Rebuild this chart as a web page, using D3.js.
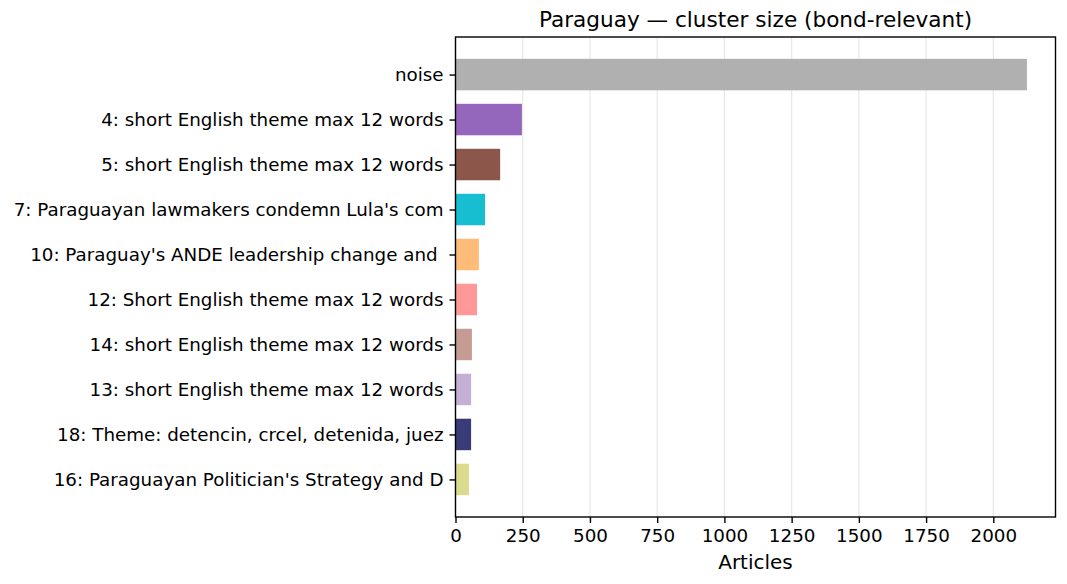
<!DOCTYPE html>
<html>
<head>
<meta charset="utf-8">
<script src="https://cdn.jsdelivr.net/npm/d3@7"></script>
<style>
  body { margin: 0; background: #fff; }
  text { font-family: "DejaVu Sans", sans-serif; }
</style>
</head>
<body>
<svg id="chart"></svg>
<script>
// cluster labels, top to bottom
const labels = [
    "noise",
    "4: short English theme max 12 words",
    "5: short English theme max 12 words",
    "7: Paraguayan lawmakers condemn Lula's com",
    "10: Paraguay's ANDE leadership change and ",
    "12: Short English theme max 12 words",
    "14: short English theme max 12 words",
    "13: short English theme max 12 words",
    "18: Theme: detencin, crcel, detenida, juez",
    "16: Paraguayan Politician's Strategy and D"
];
const counts = [2125, 247, 166, 110, 87, 80, 61, 58, 58, 50];
const colors = ["#b0b0b0", "#9467bd", "#8c564b", "#17becf", "#ffbb78",
    "#ff9896", "#c49c94", "#c5b0d5", "#393b79", "#dbdb8d"];
const xTicks = [0, 250, 500, 750, 1000, 1250, 1500, 1750, 2000];

const width = 1067;
const height = 584;
const margin = { top: 37, right: 11.5, bottom: 67, left: 455.5 };
const fontSize = "18.3px";

const svg = d3.select("#chart")
    .attr("width", width)
    .attr("height", height);

const x = d3.scaleLinear()
    .domain([0, d3.max(counts) * 1.05])
    .range([margin.left, width - margin.right]);

// matplotlib style: bar height 0.7, 5% margins
const y = d3.scaleLinear()
    .domain([-0.835, labels.length - 1 + 0.835])
    .range([margin.top, height - margin.bottom]);

// grid
svg.append("g")
    .selectAll("line")
    .data(xTicks)
    .join("line")
    .attr("x1", d => x(d))
    .attr("x2", d => x(d))
    .attr("y1", margin.top)
    .attr("y2", height - margin.bottom)
    .attr("stroke", "#b0b0b0")
    .attr("stroke-opacity", 0.3)
    .attr("stroke-width", 1.2);

svg.append("g")
    .selectAll("rect")
    .data(counts)
    .join("rect")
    .attr("x", x(0))
    .attr("y", (d, i) => y(i - 0.35))
    .attr("width", d => x(d) - x(0))
    .attr("height", y(0.35) - y(-0.35))
    .attr("fill", (d, i) => colors[i]);

const xAxis = svg.append("g")
    .attr("transform", `translate(0, ${height - margin.bottom})`)
    .call(d3.axisBottom(x).tickValues(xTicks).tickFormat(d3.format("d"))
        .tickSize(6).tickPadding(6));

const yAxis = svg.append("g")
    .attr("transform", `translate(${margin.left}, 0)`)
    .call(d3.axisLeft(y)
        .tickValues(d3.range(labels.length))
        .tickFormat(i => labels[i])
        .tickSize(6).tickPadding(6));

[xAxis, yAxis].forEach(g => {
    g.select(".domain").remove();
    g.selectAll(".tick line").attr("stroke", "#000").attr("stroke-width", 1.4);
    g.selectAll("text")
        .attr("font-size", fontSize)
        .attr("fill", "#000")
        .attr("font-family", "DejaVu Sans, sans-serif");
});
yAxis.selectAll("text").style("white-space", "pre");

// frame
svg.append("rect")
    .attr("x", margin.left)
    .attr("y", margin.top)
    .attr("width", width - margin.right - margin.left)
    .attr("height", height - margin.bottom - margin.top)
    .attr("fill", "none")
    .attr("stroke", "#000")
    .attr("stroke-width", 1.4);

svg.append("text")
    .attr("x", (margin.left + width - margin.right) / 2)
    .attr("y", margin.top - 10)
    .attr("text-anchor", "middle")
    .attr("font-size", "21.6px")
    .text("Paraguay — cluster size (bond-relevant)");

svg.append("text")
    .attr("x", (margin.left + width - margin.right) / 2)
    .attr("y", 569)
    .attr("text-anchor", "middle")
    .attr("font-size", "20px")
    .text("Articles");
</script>
</body>
</html>
